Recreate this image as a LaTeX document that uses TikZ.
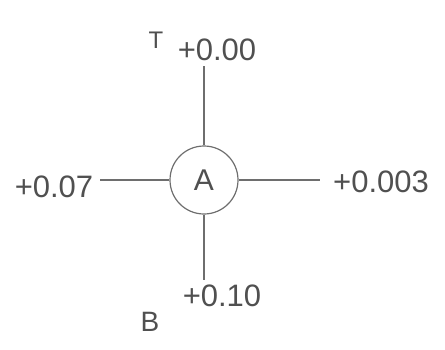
\documentclass[tikz,border=0pt]{standalone}
\usepackage{fontspec}
\setmainfont{Liberation Sans}
\usetikzlibrary{positioning}

\definecolor{inkgray}{HTML}{505050}
\definecolor{linegray}{HTML}{6E6E6E}

\begin{document}
\begin{tikzpicture}[
    x=0.5pt,y=-0.5pt,
    meter/.style={draw=linegray,circle,line width=0.6pt,
                  minimum size=34pt,inner sep=0pt,
                  font=\fontsize{15}{17}\selectfont,text=inkgray},
    value/.style={font=\fontsize{15.5}{17}\selectfont,text=inkgray,inner sep=1pt},
    tag/.style={font=\fontsize{14}{16}\selectfont,text=inkgray,inner sep=1pt},
    wire/.style={draw=linegray,line width=0.6pt},
]

\useasboundingbox (0,0) rectangle (445,349);

% ---- Meter ---------------------------------------------------------------
\node[meter] (A) at (204,180) {A};

% ---- Line ends -----------------------------------------------------------
\coordinate (top) at (204,66);
\coordinate (bot) at (204,280);
\coordinate (lft) at (100,180);
\coordinate (rgt) at (320,180);

% ---- Readings ------------------------------------------------------------
\node[value] (vTop) at (217,50) {+0.00};
\node[value] (vBot) at (222,296) {+0.10};
\node[value] (vLft) at (54,187) {+0.07};
\node[value] (vRgt) at (381,182) {+0.003};

% ---- Terminal letters ----------------------------------------------------
\node[tag,font=\fontsize{12}{14}\selectfont] (T) at (156,40) {T};
\node[tag] (B) at (150,322) {B};

% ---- Wires ---------------------------------------------------------------
\draw[wire] (A.north) -- (top);
\draw[wire] (A.south) -- (bot);
\draw[wire] (A.west) -- (lft);
\draw[wire] (A.east) -- (rgt);

\end{tikzpicture}
\end{document}
